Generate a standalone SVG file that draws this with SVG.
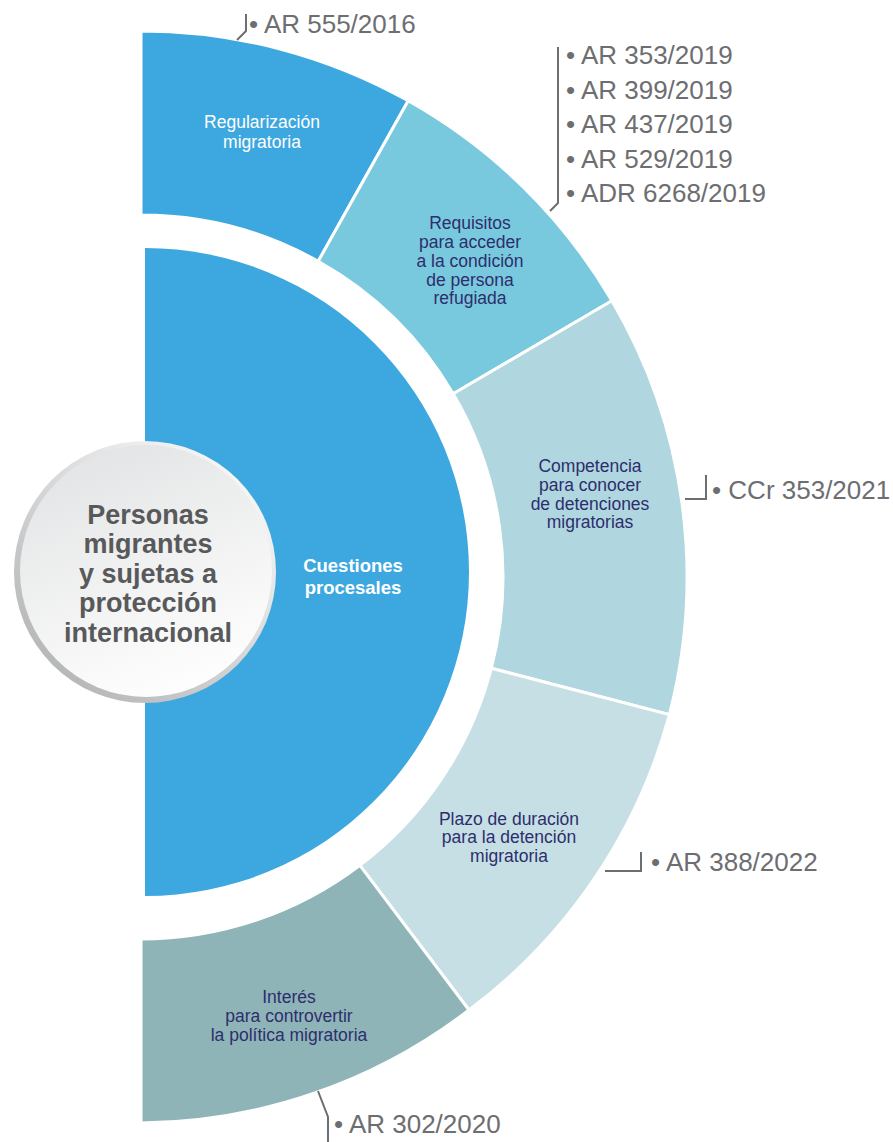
<svg xmlns="http://www.w3.org/2000/svg" width="893" height="1142" viewBox="0 0 893 1142">
<defs>
<linearGradient id="rim" x1="0.85" y1="0.1" x2="0.15" y2="0.9">
<stop offset="0" stop-color="#f7f7f7"/>
<stop offset="1" stop-color="#b5b6b8"/>
</linearGradient>
<linearGradient id="face" x1="0.3" y1="0" x2="0.7" y2="1">
<stop offset="0" stop-color="#e3e4e5"/>
<stop offset="1" stop-color="#ffffff"/>
</linearGradient>
<style>
.seg{stroke:#ffffff;stroke-width:3}
.lbl{font-family:"Liberation Sans",Arial,sans-serif;font-size:17.5px;text-anchor:middle;fill:#2D2E6C}
.wlbl{font-family:"Liberation Sans",Arial,sans-serif;font-size:17.5px;text-anchor:middle;fill:#ffffff}
.ref{font-family:"Liberation Sans",Arial,sans-serif;font-size:26px;fill:#6D6E71}
.lead{fill:none;stroke:#6D6E71;stroke-width:2}
.title{font-family:"Liberation Sans",Arial,sans-serif;font-size:27px;font-weight:bold;text-anchor:middle;fill:#58595B}
</style>
</defs>
<rect width="893" height="1142" fill="#ffffff"/>

<g id="cuestiones">
<path d="M145,248 A324,324 0 0 1 145,896 Z" fill="#3DA8DF"/>
<text class="wlbl" font-weight="bold" font-size="18.5" style="font-size:18.5px" x="353" y="572">Cuestiones</text>
<text class="wlbl" font-weight="bold" style="font-size:18.5px" x="353" y="594">procesales</text>
</g>

<g id="regularizacion">
<path class="seg" d="M141,215 L141,31 A546,546 0 0 1 408.2,100.8 L318.2,261.3 A362,362 0 0 0 141,215 Z" fill="#3DA8DF"/>
<text class="wlbl" x="262" y="128">Regularización</text>
<text class="wlbl" x="262" y="148">migratoria</text>
</g>

<g id="requisitos">
<path class="seg" d="M318.2,261.3 L408.2,100.8 A546,546 0 0 1 611.9,300.7 L453.2,393.8 A362,362 0 0 0 318.2,261.3 Z" fill="#79C9DE"/>
<text class="lbl" x="470" y="229">Requisitos</text>
<text class="lbl" x="470" y="248">para acceder</text>
<text class="lbl" x="470" y="267">a la condición</text>
<text class="lbl" x="470" y="286">de persona</text>
<text class="lbl" x="470" y="304">refugiada</text>
</g>

<g id="competencia">
<path class="seg" d="M453.2,393.8 L611.9,300.7 A546,546 0 0 1 669.4,714.6 L491.3,668.3 A362,362 0 0 0 453.2,393.8 Z" fill="#B0D6E0"/>
<text class="lbl" x="590" y="472">Competencia</text>
<text class="lbl" x="590" y="491">para conocer</text>
<text class="lbl" x="590" y="510">de detenciones</text>
<text class="lbl" x="590" y="528">migratorias</text>
</g>

<g id="plazo">
<path class="seg" d="M491.3,668.3 L669.4,714.6 A546,546 0 0 1 469,1010 L359.9,865.3 A362,362 0 0 0 491.3,668.3 Z" fill="#C6DFE5"/>
<text class="lbl" x="509" y="825">Plazo de duración</text>
<text class="lbl" x="509" y="843">para la detención</text>
<text class="lbl" x="509" y="862">migratoria</text>
</g>

<g id="interes">
<path class="seg" d="M359.9,865.3 L469,1010 A546,546 0 0 1 141,1123 L141,939 A362,362 0 0 0 359.9,865.3 Z" fill="#8EB4B8"/>
<text class="lbl" x="289" y="1003">Interés</text>
<text class="lbl" x="289" y="1022">para controvertir</text>
<text class="lbl" x="289" y="1041">la política migratoria</text>
</g>

<g id="centro">
<circle cx="145" cy="572" r="131" fill="url(#rim)"/>
<circle cx="146" cy="571" r="126" fill="url(#face)"/>
<text class="title" x="148" y="524">Personas</text>
<text class="title" x="148" y="553">migrantes</text>
<text class="title" x="148" y="583">y sujetas a</text>
<text class="title" x="148" y="612">protección</text>
<text class="title" x="148" y="642">internacional</text>
</g>

<g id="connectors">
<path class="lead" d="M237,40 L246,31 L246,14"/>
<path class="lead" d="M550,211 L558,203 L558,47"/>
<path class="lead" d="M685,499 L706,499 L706,475"/>
<path class="lead" d="M605,871 L641,871 L641,852"/>
<path class="lead" d="M318,1091 L328,1117 L328,1142"/>
</g>

<g id="referencias">
<text class="ref" x="249" y="33">• AR 555/2016</text>
<text class="ref" x="566" y="64">• AR 353/2019</text>
<text class="ref" x="566" y="99">• AR 399/2019</text>
<text class="ref" x="566" y="133">• AR 437/2019</text>
<text class="ref" x="566" y="168">• AR 529/2019</text>
<text class="ref" x="566" y="202">• ADR 6268/2019</text>
<text class="ref" x="712" y="499">• CCr 353/2021</text>
<text class="ref" x="651" y="871">• AR 388/2022</text>
<text class="ref" x="334" y="1133">• AR 302/2020</text>
</g>
</svg>
